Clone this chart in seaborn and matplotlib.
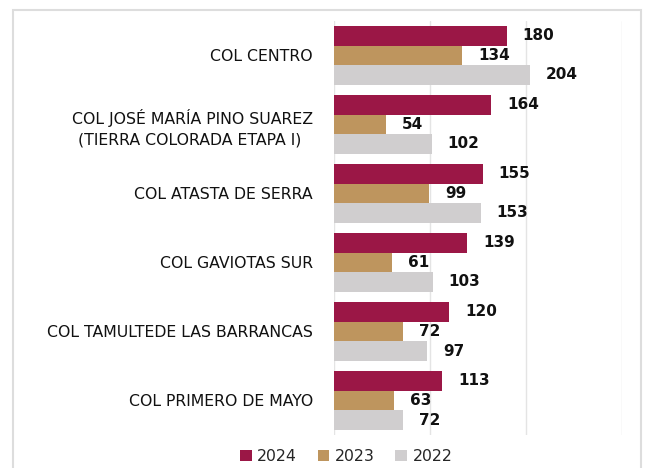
import pandas as pd
import matplotlib.pyplot as plt
import seaborn as sns
from matplotlib.patches import Rectangle

# Data
colonias = [
    "COL CENTRO",
    "COL JOSÉ MARÍA PINO SUAREZ\n(TIERRA COLORADA ETAPA I) ",
    "COL ATASTA DE SERRA",
    "COL GAVIOTAS SUR",
    "COL TAMULTEDE LAS BARRANCAS",
    "COL PRIMERO DE MAYO",
]
years = ["2024", "2023", "2022"]
values_2024 = [180, 164, 155, 139, 120, 113]
values_2023 = [134, 54, 99, 61, 72, 63]
values_2022 = [204, 102, 153, 103, 97, 72]
colors = ["#9B1746", "#BE955E", "#D0CECF"]

df = pd.DataFrame({
    "Colonia": colonias * 3,
    "Year": [y for y in years for _ in colonias],
    "Value": values_2024 + values_2023 + values_2022,
})

sns.set_theme(style="white")
plt.rcParams["font.family"] = ["DejaVu Sans"]

fig = plt.figure(figsize=(6.47, 4.68), dpi=100)
ax = fig.add_axes([0.516, 0.0705, 0.445, 0.885])

sns.barplot(data=df, y="Colonia", x="Value", hue="Year", hue_order=years,
            palette=colors, orient="h", width=0.85, gap=0, ax=ax,
            saturation=1, edgecolor="none", errorbar=None)

for container in ax.containers:
    ax.bar_label(container, padding=11.5, fontsize=11, fontweight="bold", color="#111111")

ax.set_xlim(0, 300)
ax.set_ylim(5.5, -0.5)
ax.set_xticks([0, 100, 200, 300])
ax.set_xticklabels([])
ax.xaxis.grid(True, color="#E4E4E4", linewidth=1)
ax.set_axisbelow(True)
for s in ax.spines.values():
    s.set_visible(False)
ax.set_xlabel("")
ax.set_ylabel("")
ax.tick_params(axis="y", length=0, pad=15, labelsize=11.3, labelcolor="#111111")
for lbl in ax.get_yticklabels():
    lbl.set_multialignment("center")
    lbl.set_linespacing(1.45)

ax.legend(loc="center", bbox_to_anchor=(0.535, 0.025), bbox_transform=fig.transFigure,
          ncol=3, frameon=False, fontsize=11.3, handlelength=0.75, handleheight=0.75,
          handletextpad=0.35, columnspacing=1.3)

# light frame around the chart
fig.patches.append(Rectangle((13 / 647, -0.05), 628 / 647, 1 - 10 / 468 + 0.05,
                             transform=fig.transFigure, fill=False,
                             edgecolor="#DDDDDD", linewidth=1.5))

fig.savefig("out.png", dpi=100)
